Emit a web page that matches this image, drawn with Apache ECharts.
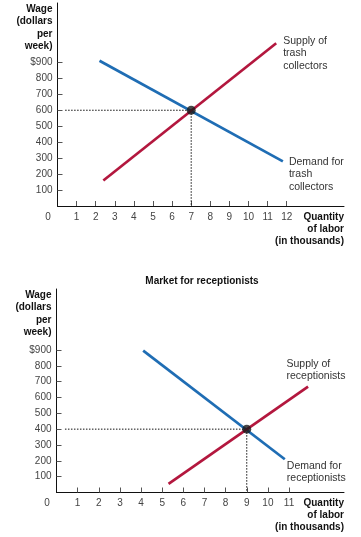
<!DOCTYPE html>
<html><head><meta charset="utf-8">
<script src="https://cdn.jsdelivr.net/npm/echarts@6/dist/echarts.min.js"></script>
<style>html,body{margin:0;padding:0;background:#fff}#c{width:361px;height:537px}</style>
</head><body><div id="c"></div>
<script>
// ---- data ----
const yTicks = [100, 200, 300, 400, 500, 600, 700, 800, 900];
const xTicksTrash = [0, 1, 2, 3, 4, 5, 6, 7, 8, 9, 10, 11, 12];
const xTicksRecept = [0, 1, 2, 3, 4, 5, 6, 7, 8, 9, 10, 11];
const trashDemand = [[2.2, 910], [11.8, 280]];
const trashSupply = [[2.4, 160], [11.45, 1020]];
const trashEquilibrium = [7, 600];
const receptDemand = [[4.1, 896], [10.8, 210]];
const receptSupply = [[5.3, 54], [11.9, 668]];
const receptEquilibrium = [9, 400];
const trashLabels = { supply: 'Supply of\ntrash\ncollectors', demand: 'Demand for\ntrash\ncollectors' };
const receptLabels = { supply: 'Supply of\nreceptionists', demand: 'Demand for\nreceptionists' };
const titleBottom = 'Market for receptionists';
const yName = 'Wage\n(dollars\nper\nweek)';
const xName = 'Quantity\nof labor\n(in thousands)';

const FONT = '"Liberation Sans", Arial, Helvetica, sans-serif';
const BLUE = '#1f6db4', RED = '#b3173e';

function xAxis(gridIndex, max, ticks) {
  return {
    type: 'value', gridIndex, min: 0, max,
    splitLine: { show: false },
    axisLine: { lineStyle: { color: '#111', width: 1 } },
    axisTick: { inside: true, length: 5, lineStyle: { color: '#555' }, customValues: ticks.filter(v => v > 0) },
    axisLabel: {
      customValues: ticks, margin: 6, color: '#444', fontSize: 10, fontFamily: FONT,
      formatter: v => v === 0 ? '{z|0}' : String(v),
      rich: { z: { padding: [0, 19, 0, 0], color: '#444', fontSize: 10, fontFamily: FONT } }
    }
  };
}
function yAxis(gridIndex, max) {
  return {
    type: 'value', gridIndex, min: 0, max,
    splitLine: { show: false },
    axisLine: { show: true, lineStyle: { color: '#111', width: 1 } },
    axisTick: { show: true, inside: true, length: 5, lineStyle: { color: '#555' }, customValues: yTicks },
    axisLabel: {
      customValues: yTicks, margin: 5, color: '#444', fontSize: 10, fontFamily: FONT,
      formatter: v => v === 900 ? '$900' : String(v)
    },
    name: yName, nameLocation: 'end', nameGap: 0,
    nameTextStyle: { align: 'right', verticalAlign: 'top', padding: [0, 5, 0, 0], fontWeight: 'bold', fontSize: 10, lineHeight: 12.3, color: '#111', fontFamily: FONT }
  };
}
function endLabelData(points, text, offset) {
  return points.map((p, i) => i === points.length - 1 ? {
    value: p,
    label: { show: true, formatter: text, position: 'right', distance: 0, offset, align: 'left', verticalAlign: 'middle', fontSize: 10.5, lineHeight: 12.5, color: '#333', fontFamily: FONT }
  } : { value: p });
}
function marketSeries(idx, demand, supply, eq, labels, offs) {
  const base = { type: 'line', xAxisIndex: idx, yAxisIndex: idx, symbol: 'none', silent: true, animation: false };
  const lab = { symbol: 'circle', symbolSize: 0, showSymbol: true };
  return [
    Object.assign({}, base, { data: [[0.4, eq[1]], eq], lineStyle: { color: '#111', width: 1, type: [1.5, 1.5] } }),
    Object.assign({}, base, { data: [eq, [eq[0], 0]], lineStyle: { color: '#111', width: 1, type: [1.5, 1.5] } }),
    Object.assign({}, base, lab, { data: endLabelData(demand, labels.demand, offs.demand), lineStyle: { color: BLUE, width: 2.7 }, itemStyle: { color: BLUE }, z: 3 }),
    Object.assign({}, base, lab, { data: endLabelData(supply, labels.supply, offs.supply), lineStyle: { color: RED, width: 2.7 }, itemStyle: { color: RED }, z: 3 }),
    { type: 'scatter', xAxisIndex: idx, yAxisIndex: idx, data: [eq], symbolSize: 9, itemStyle: { color: '#1a1a1a' }, z: 5, silent: true, animation: false }
  ];
}
const nameStyle = { text: xName, fontSize: 10, fontWeight: 'bold', lineHeight: 12, fill: '#111', font: 'bold 10px ' + FONT, textAlign: 'right', textVerticalAlign: 'top', align: 'right', verticalAlign: 'top' };

const chart = echarts.init(document.getElementById('c'), null, { renderer: 'canvas' });
chart.setOption({
  animation: false,
  backgroundColor: '#fff',
  title: { text: titleBottom, left: 197, top: 271, textAlign: 'center', textStyle: { fontSize: 10, fontWeight: 'bold', color: '#111', fontFamily: FONT } },
  grid: [
    { left: 57.5, right: 17, top: 3, bottom: 331 },
    { left: 56.5, right: 17, top: 289, bottom: 44.5 }
  ],
  xAxis: [xAxis(0, 15, xTicksTrash), xAxis(1, 13.6, xTicksRecept)],
  yAxis: [yAxis(0, 1272), yAxis(1, 1285)],
  graphic: [
    { type: 'text', right: 17, top: 211, style: Object.assign({}, nameStyle) },
    { type: 'text', right: 17, top: 497, style: Object.assign({}, nameStyle) }
  ],
  series: [
    ...marketSeries(0, trashDemand, trashSupply, trashEquilibrium, trashLabels, { demand: [6, 13], supply: [7, 10] }),
    ...marketSeries(1, receptDemand, receptSupply, receptEquilibrium, receptLabels, { demand: [2, 13], supply: [-21.6, -16.5] })
  ]
});
</script></body></html>
